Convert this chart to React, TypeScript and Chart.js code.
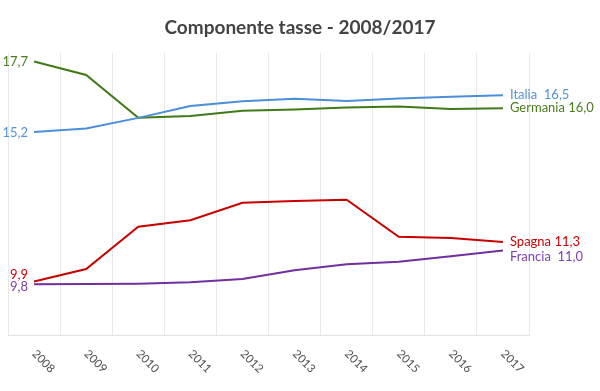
import React, { useEffect, useRef } from "react";
import { Chart, registerables } from "chart.js";

Chart.register(...registerables);

const chartTitle = "Componente tasse - 2008/2017";
const years = ["2008", "2009", "2010", "2011", "2012", "2013", "2014", "2015", "2016", "2017"];
const seriesNames = ["Italia", "Germania", "Spagna", "Francia"];
const italia = [15.2, 15.32, 15.7, 16.12, 16.29, 16.38, 16.3, 16.39, 16.45, 16.5];
const germania = [17.7, 17.22, 15.7, 15.77, 15.95, 16.0, 16.07, 16.1, 16.01, 16.04];
const spagna = [9.9, 10.34, 11.84, 12.07, 12.69, 12.75, 12.8, 11.48, 11.44, 11.3];
const francia = [9.8, 9.81, 9.82, 9.87, 9.99, 10.3, 10.51, 10.6, 10.79, 11.0];
const yMin = 8;
const yMax = 18;

const lineColors = ["#4a8fd8", "#3f7a16", "#c80000", "#7030a0"];
const labelColors = ["#5592d8", "#4a7d1f", "#cc0000", "#7d3fb4"];
const nameGaps = ["  ", " ", " ", "  "];
const leftLabelDy = [1, 0, -7, 3];
const rightLabelDy = [0, 0, 0, 6];

const FONT = "Lato, 'Open Sans', sans-serif";

const fmt = (v: number) => v.toFixed(1).replace(".", ",");

const overlayPlugin = {
  id: "overlay",
  afterDatasetsDraw(chart: any) {
    const ctx: CanvasRenderingContext2D = chart.ctx;
    ctx.save();
    // end labels
    chart.data.datasets.forEach((ds: any, i: number) => {
      const meta = chart.getDatasetMeta(i);
      const first = meta.data[0];
      const last = meta.data[meta.data.length - 1];
      ctx.font = `13px ${FONT}`;
      ctx.fillStyle = labelColors[i];
      ctx.textBaseline = "middle";
      ctx.textAlign = "right";
      ctx.fillText(fmt(ds.data[0]), first.x - 6, first.y + leftLabelDy[i]);
      ctx.textAlign = "left";
      ctx.fillText(
        seriesNames[i] + nameGaps[i] + fmt(ds.data[ds.data.length - 1]),
        last.x + 7,
        last.y + rightLabelDy[i]
      );
    });
    // x tick labels, rotated clockwise
    const xs = chart.scales.x;
    ctx.font = `11.5px ${FONT}`;
    ctx.fillStyle = "#505050";
    ctx.textAlign = "left";
    ctx.textBaseline = "middle";
    years.forEach((y, i) => {
      const px = xs.getPixelForValue(i);
      ctx.save();
      ctx.translate(px, xs.bottom + 17);
      ctx.rotate(Math.PI / 4);
      ctx.fillText(y, 0, 0);
      ctx.restore();
    });
    // title
    ctx.font = `bold 19px ${FONT}`;
    ctx.fillStyle = "#444444";
    ctx.textAlign = "center";
    ctx.textBaseline = "alphabetic";
    ctx.fillText(chartTitle, 300, 34);
    ctx.restore();
  },
};

export default function App() {
  const canvasRef = useRef<HTMLCanvasElement | null>(null);

  useEffect(() => {
    const canvas = canvasRef.current;
    if (!canvas) return;
    const seriesData = [italia, germania, spagna, francia];
    const chart = new Chart(canvas, {
      type: "line",
      data: {
        labels: years,
        datasets: seriesData.map((d, i) => ({
          label: seriesNames[i],
          data: d,
          borderColor: lineColors[i],
          backgroundColor: lineColors[i],
          borderWidth: 2,
          pointRadius: 0,
          tension: 0,
          fill: false,
        })),
      },
      options: {
        responsive: false,
        animation: false,
        devicePixelRatio: 1,
        layout: { padding: { left: 8, right: 71, top: 53, bottom: 56 } },
        plugins: {
          legend: { display: false },
          title: { display: false },
          tooltip: { enabled: false },
        },
        scales: {
          x: {
            type: "category",
            offset: true,
            grid: { offset: true, color: "#e8e8e8", lineWidth: 1, drawTicks: false },
            border: { display: true, color: "#e2e2e2" },
            ticks: { display: false },
          },
          y: {
            display: false,
            min: yMin,
            max: yMax,
          },
        },
      },
      plugins: [overlayPlugin],
    });
    return () => chart.destroy();
  }, []);

  return (
    <div style={{ position: "fixed", left: 0, top: 0, width: 600, height: 391, background: "#fff" }}>
      <canvas ref={canvasRef} width={600} height={391} style={{ display: "block" }} />
    </div>
  );
}
